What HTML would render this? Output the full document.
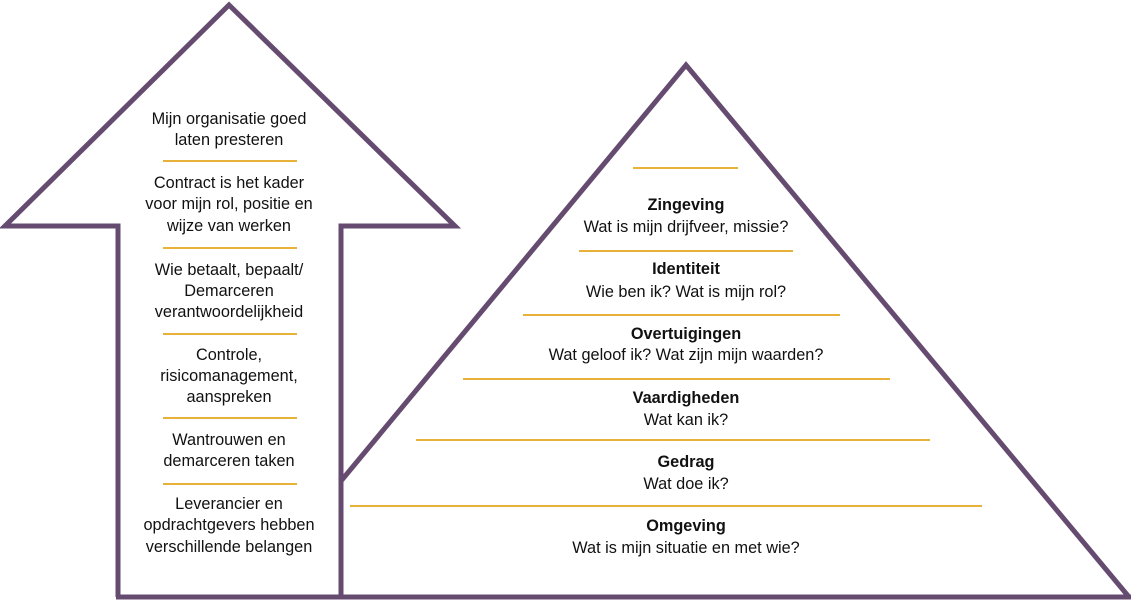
<!DOCTYPE html>
<html><head><meta charset="utf-8"><style>
html,body{margin:0;padding:0;background:#fff;}
svg{display:block;}
text{font-family:"Liberation Sans",sans-serif;font-size:16.3px;fill:#111;text-anchor:middle;}
.b{font-weight:bold;}
</style></head><body>
<svg width="1134" height="600" viewBox="0 0 1134 600">
<g fill="none" stroke="#654b70" stroke-width="5" stroke-linejoin="miter">
<polyline points="341,597 341,226 455,226 229,5 5,226 118,226 118,597"/>
<polyline points="341,481 686,65 1129,597"/>
<line x1="116" y1="597" x2="1131" y2="597"/>
</g>
<g stroke="#e8b23a" stroke-width="2">
<line x1="163" y1="161" x2="297" y2="161"/>
<line x1="163" y1="248" x2="297" y2="248"/>
<line x1="163" y1="334" x2="297" y2="334"/>
<line x1="163" y1="418" x2="297" y2="418"/>
<line x1="163" y1="484" x2="297" y2="484"/>
<line x1="633" y1="168" x2="738" y2="168"/>
<line x1="579" y1="251" x2="793" y2="251"/>
<line x1="523" y1="315" x2="840" y2="315"/>
<line x1="463" y1="379" x2="890" y2="379"/>
<line x1="416" y1="440" x2="930" y2="440"/>
<line x1="350" y1="506" x2="982" y2="506"/>
</g>
<g>
<text x="229" y="124">Mijn organisatie goed</text>
<text x="229" y="145">laten presteren</text>
<text x="229" y="188">Contract is het kader</text>
<text x="229" y="209">voor mijn rol, positie en</text>
<text x="229" y="231">wijze van werken</text>
<text x="229" y="275">Wie betaalt, bepaalt/</text>
<text x="229" y="296">Demarceren</text>
<text x="229" y="317">verantwoordelijkheid</text>
<text x="229" y="360">Controle,</text>
<text x="229" y="381">risicomanagement,</text>
<text x="229" y="402">aanspreken</text>
<text x="229" y="445">Wantrouwen en</text>
<text x="229" y="466">demarceren taken</text>
<text x="229" y="509">Leverancier en</text>
<text x="229" y="530">opdrachtgevers hebben</text>
<text x="229" y="552">verschillende belangen</text>

<text class="b" x="686" y="210">Zingeving</text>
<text x="686" y="232">Wat is mijn drijfveer, missie?</text>
<text class="b" x="686" y="274">Identiteit</text>
<text x="686" y="297">Wie ben ik? Wat is mijn rol?</text>
<text class="b" x="686" y="339">Overtuigingen</text>
<text x="686" y="360">Wat geloof ik? Wat zijn mijn waarden?</text>
<text class="b" x="686" y="403">Vaardigheden</text>
<text x="686" y="425">Wat kan ik?</text>
<text class="b" x="686" y="467">Gedrag</text>
<text x="686" y="489">Wat doe ik?</text>
<text class="b" x="686" y="531">Omgeving</text>
<text x="686" y="553">Wat is mijn situatie en met wie?</text>
</g>
</svg>
</body></html>
